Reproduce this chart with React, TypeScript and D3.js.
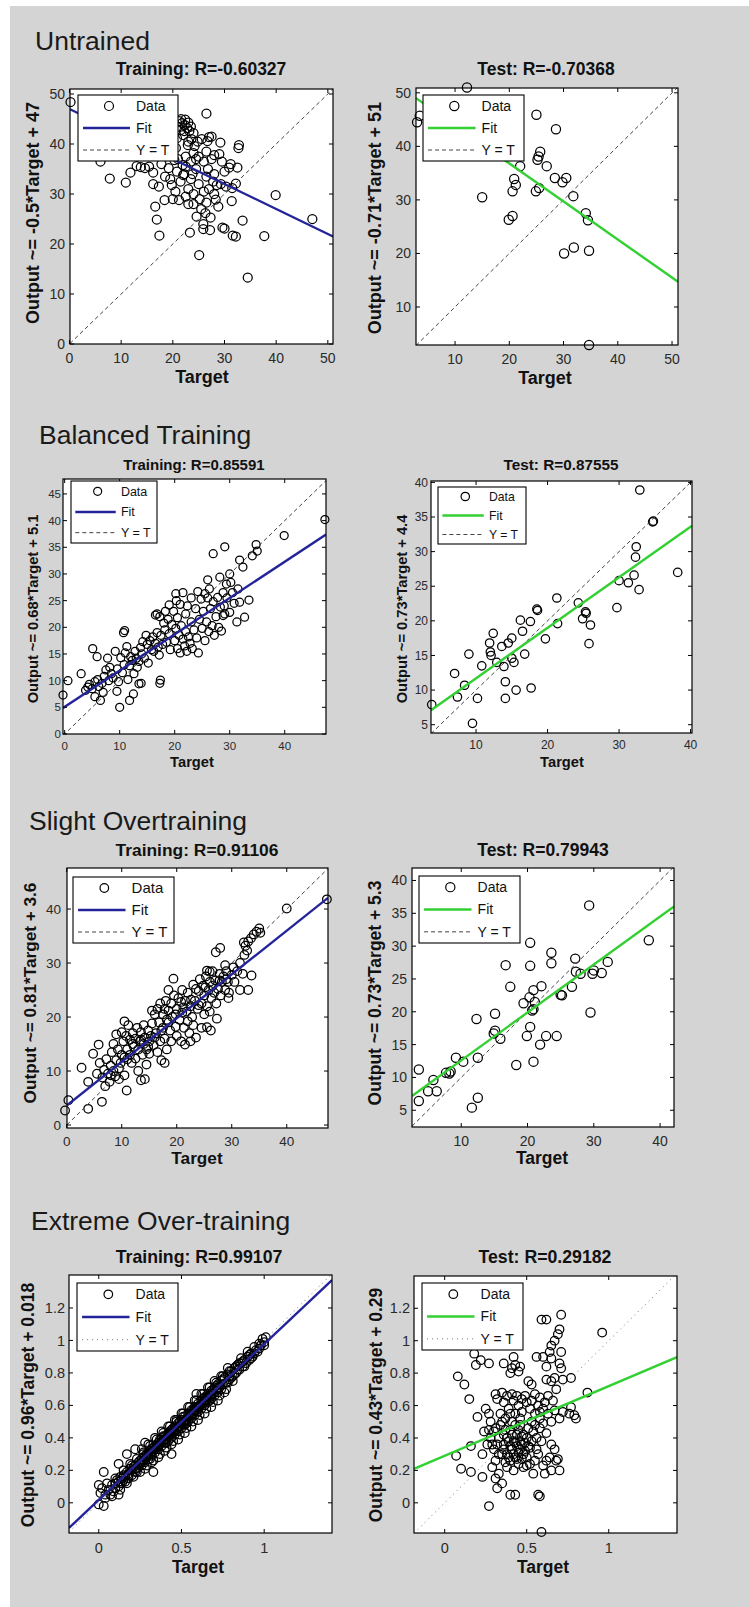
import React from 'react';
import * as d3 from 'd3';

type Pt = [number, number];

// ---- data (target, output) ----
const untrainedTrain: Pt[] = [
  [0.2,48.4],[6,36.5],[7.8,33.1],[10.9,32.3],[11.8,34.3],[13,35.6],[13.8,35.4],[14.6,35.2],[15.4,35.5],[16.2,34.3],
  [16.2,32],[16.6,27.5],[16.9,24.9],[17.4,21.7],[17.3,31.5],[17.8,36],[18.4,28.8],[18.5,33.5],[18.8,37.6],[19.2,35.2],
  [19.8,31.8],[20,29],[20.3,36.8],[20.5,30.5],[20.6,39.2],[21,37],[21.2,28.8],[21.2,44.6],[21.5,42.8],[21.5,32.5],
  [21.8,44.2],[21.9,35.8],[22,33.8],[22,41.8],[22.2,34],[22.3,43.8],[22.5,29.5],[22.5,37.5],[22.5,35.5],[22.8,43.2],
  [22.9,39.8],[23,31],[23.2,42.6],[23.3,22.3],[23.5,33],[23.5,36.5],[23.6,41],[24,38.2],[24,30],[24,28],
  [24.2,39.6],[24.5,35],[24.8,40.5],[25,32],[25.1,17.8],[25,37.5],[25.5,27],[25.6,41],[25.9,24],[25.9,23],
  [26,36.5],[26,30.5],[26.3,26.2],[26.5,46.1],[26.5,38.5],[26.5,33.5],[26.5,28.3],[26.7,40.6],[27,41.4],[27,31],
  [27.2,22.8],[27.3,25.3],[27.5,41.5],[27.5,37],[28,37.8],[28,34],[28,30],[28.3,28.9],[28.5,31.8],[28.8,27.5],
  [29,38],[29.2,40.3],[29.3,32],[29.6,23.3],[30,23.1],[30,34.5],[30.3,31.5],[30.9,35.3],[31.2,36],[31.4,28.6],
  [31.5,31.2],[31.6,21.7],[32.2,21.5],[32.2,32.1],[32.5,35.3],[32.7,39.2],[32.8,39.8],[33.5,24.7],[34.5,13.3],[37.7,21.6],
  [39.9,29.8],[47,25],
  [21,43.5],[21.6,45],[22.4,44.9],[23,44.3],[23.5,43.5],[22.2,42.6],[20.8,41.2],[24,42.2],[23,40.5],[20,38],
  [24.5,37],[19.5,33],[20.8,34.5],[23.8,34],[26.8,35],[29.5,36.5],[27.8,32.5],[25.2,29],[23,28],[24.6,25.5]
];

const untrainedTest: Pt[] = [
  [3,44.5],[3.5,45.7],[12.2,51],[15,30.5],[19.9,26.3],[20.6,27],[20.6,31.6],[20.9,33.9],[21.2,32.8],[22,36.3],
  [24.9,31.6],[25,45.9],[25.2,37.5],[25.4,38.1],[25.5,32.2],[25.7,39],[26.9,36.3],[28.4,34.1],[28.6,43.2],[29.8,33.3],
  [30.1,20],[30.5,34.1],[31.8,30.7],[31.9,21.1],[34.1,27.5],[34.5,26.2],[34.7,20.5],[34.7,2.9]
];

const balancedTrain: Pt[] = [
  [47.3,40.2],[39.9,37.2],[34.8,35.5],[35,34.3],[34.1,33.4],[29.1,35.1],[27,33.8],[31.8,32.6],[32.4,31.3],[26,28.9],
  [28.2,29.4],[30,30],[30.2,28.4],[29.4,28.1],[31.5,27.2],[33.5,25.1],[32.7,21.9],[31.3,21],[31.8,24.7],[20.2,26.3],
  [29.1,22.5],[28.8,22.2],[16.5,22.3],[17.3,22],[10.9,19.4],[10.7,19],[5.1,16],[5.9,14.5],[0.6,10],[-0.3,7.3],
  [3,11.3],[10,5],[11.8,6.3],[6.5,6.3],[13.9,9.5],[17.3,9.5],[17.4,10.1],
  [3.8,8.2],[4.2,8.8],[4.5,9.3],[5,8.5],[5.5,9.8],[6,10.2],[6.2,8.9],[6.8,9.5],[7.2,10.8],[7.5,12],[5.5,7],[7,7.8],
  [8,10],[8.2,12.5],[8.5,11.3],[8.8,10.5],[7.8,14.2],[9.2,15.5],[9.6,12.2],[9.8,9.8],[9.5,8],
  [10.2,14.3],[10.5,11.5],[10.8,13],[11,15.2],[11.3,16.4],[11.5,10.2],[11.8,12.8],[12,14.5],[12.3,13.8],[12.6,11.3],
  [12.8,15.5],[13,14.2],[13.2,12.5],[13.5,13.6],[13.8,16.2],[14,15],[14.2,17.3],[14.5,14.2],[14.8,18.5],[15,16.8],
  [15.2,13.3],[15.5,17.5],[15.8,15.8],[13.5,9.4],[12.5,7.5],
  [16,18.2],[16.2,15.5],[16.5,17],[16.8,19],[17,16.3],[17.2,14.8],[17.5,18.5],[17.8,16.8],[18,20.8],[18.2,19.5],
  [18.5,17.2],[18.8,21.5],[19,18.8],[19.2,15.8],[19.5,20.5],[19.8,23],[20,17.5],[20.2,19.8],[20.5,16],[20.5,21.8],
  [20.8,18.5],[21,24.3],[21,15.2],[21.2,20.3],[21.5,17.8],[21.8,16.5],[22,19.2],[22,22.5],[22.2,15.5],[22.5,18.2],
  [22.8,17],[23,21],[23.2,16],[23.5,19.5],[23.8,23.5],[24,18],[24.3,15.2],[24.5,21.5],[24.8,25.3],[25,19.8],
  [25.2,23],[25.5,17.5],[25.8,21],[26,25.5],[26.2,19.2],[26.5,23.5],[26.8,20.3],[27,24.8],[27.2,18.5],[27.5,22],
  [27.8,25.6],[28,20],[28.3,23.8],[28.5,19.3],[28.8,26.5],[29,24],[29.5,25.5],[30,22.8],[30.5,26.5],[30.8,24.5],
  [23,25.5],[22.3,24],[20.3,25],[19,24.2],[18.3,23],[16.8,22.5],[21.5,26.5],[25.5,26.3],[26.3,27.2],[24.2,26.7]
];

const balancedTest: Pt[] = [
  [3.8,7.9],[7,12.4],[7.4,9],[8.4,10.7],[9.5,5.2],[9,15.2],[10.2,8.8],[10.8,13.5],[12.4,18.2],[11.9,16.8],
  [12,15.5],[12.1,15],[12.9,14],[13.6,16.3],[13.9,13.4],[14.1,11.2],[14.1,8.8],[14.5,16.8],[15,17.5],[15,14.6],
  [15.3,14],[15.6,10],[16.2,20.1],[16.5,18.5],[16.8,15.2],[17.6,19.9],[17.7,10.3],[18.5,21.7],[18.6,21.5],[19.7,17.4],
  [21.3,23.3],[21.4,19.6],[24.3,22.6],[24.9,20.3],[25.3,21.3],[25.4,21.1],[26,19.4],[25.8,16.7],[29.7,21.9],[30,25.8],
  [31.3,25.5],[32.1,26.6],[32.3,29.2],[32.4,30.7],[32.8,24.5],[32.9,38.9],[34.7,34.3],[34.8,34.4],[38.2,27]
];

const slightTrain: Pt[] = [
  [47.3,41.8],[40,40.1],[35,36.4],[34.5,35.8],[34,35.3],[33,34],[32.5,33.2],[32.8,32.3],[32.2,33.8],[33.5,34.6],
  [35.2,35.6],[27.9,32.8],[27.1,32],[25.5,28.6],[26,28.4],[28.8,29.6],[33.6,27.7],[33,25],[31.5,25],[19.4,27.1],
  [10.5,19.2],[5.8,14.9],[4.8,13.2],[2.7,10.6],[3.9,8],[0.3,4.6],[-0.3,2.7],[3.9,3],[6.4,4.3],[10.9,6.4],
  [14.2,8.5],[25.5,18.1],[27.3,19.7],[21.5,14.9],[29.4,23.5],
  [5.5,9.5],[6,11.5],[6.5,8.8],[6.8,10.2],[7,7.2],[7.2,12.2],[7.5,9.5],[7.8,8],[8,11],[8.2,13.5],
  [8.5,10],[8.5,15],[8.8,9],[9,12],[9,16.8],[9.3,14],[9.5,8.5],[9.8,11.5],[10,13],[10,17.2],
  [10.3,15.5],[10.5,12.5],[10.5,9.2],[10.8,16.5],[11,14],[11.2,18.5],[11.5,13],[11.5,15.8],[11.8,11.5],[12,17],
  [12.2,14.5],[12.5,12.3],[12.5,16],[12.8,18],[13,14],[13,10],[13.3,15.5],[13.5,8.3],[13.5,17.2],[13.8,13],
  [14,15],[14,18.5],[14.2,16.2],[14.5,14],[14.5,11.2],[14.8,17.5],[15,15.5],[15,13.2],[15.3,16.5],[15.5,18.8],
  [15.8,14.8],[16,20.5],[16.2,17],[16.5,21.5],[16.5,13.5],[16.8,19],[17,15.5],[17,22.5],[17.2,12],[17.5,18],
  [17.5,20.5],[17.8,16],[17.8,11.5],[18,23],[18.2,19.5],[18.2,14],[18.5,21.2],[18.5,25],[18.8,17.5],[19,22.5],
  [19,15.5],[19.2,20],[19.5,24],[19.8,18.2],[20,21.5],[20,16.5],[20.3,23.5],[20.5,19.5],[20.8,22.8],[20.8,15.5],
  [21,20.8],[21,25],[21.3,18],[21.5,23],[21.8,21],[22,19.2],[22,24.5],[22.3,17],[22.5,22],[22.8,20],
  [23,26],[23,18.5],[23.3,23],[23.5,16.2],[23.8,21.5],
  [24,24.8],[24.2,27],[24.5,22.5],[24.8,25.8],[25,20.5],[25,24],[25.3,27.5],[25.5,22],[25.8,25],[26,26.5],
  [26,21],[26.3,23.5],[26.5,28.5],[26.8,24.5],[27,26.8],[27.2,22.5],[27.5,25.2],[27.8,28],[28,24],[28.2,26.5],
  [28.5,27.5],[28.8,25],[29,28.5],[29.3,26.5],[29.5,24.5],[30,27.8],[30.3,29.2],[30.5,26.5],[31,28.5],[31.5,30],
  [32,28],[32.3,31.5],[26.2,17.5],[24.5,18],[22.5,15.5],
  [12,15],[13.5,15.8],[14.8,14.5],[16,16.2],[17.2,17.5],[18.5,19],[19.8,20.5],[21.2,21.8],[22.6,23.2],[24,22.2],
  [25.2,25.5],[26.5,25.8],[27.8,26.8],[29,27],[11,12.2],[9.5,10.5],[8,9.2],[15.5,21.2],[17.8,21.5],[23.5,25.2]
];

const slightTest: Pt[] = [
  [3.6,11.2],[3.6,6.4],[5,7.9],[5.8,9.6],[6.3,7.9],[7.7,10.7],[8.2,10.6],[8.4,10.9],[9.2,13],[10.3,12.4],
  [12.3,18.9],[12.5,13],[12.5,6.9],[11.6,5.4],[15.1,19.7],[14.9,16.7],[15.1,17.1],[15.9,15.9],[16.7,27.1],[17.4,23.8],
  [18.3,11.9],[19.4,21.3],[19.9,16.3],[20.4,30.5],[20.4,27],[20.4,17.7],[20.3,22.2],[20.9,23.3],[20.9,20.4],[20.7,20.2],
  [20.9,12.4],[21.1,21.5],[21.9,15],[22.1,23.9],[22.8,16.3],[23.6,29],[23.6,27.4],[24.4,16.3],[25,22.6],[25.2,22.5],
  [26.7,23.8],[27.2,28.1],[27.3,26.1],[28,25.8],[29.3,36.2],[29.5,19.9],[29.8,25.8],[30,26.3],[31.2,25.9],[32.1,27.6],
  [38.3,30.9]
];

const extremeTrain: Pt[] = [
  [0.03,0.19],[0.0,0.11],[0.01,0.06],[0.04,0.03],[0.03,-0.02],[0.12,0.05],[0.12,0.24],[0.17,0.30],[0.22,0.33],[0.28,0.37],
  [0.33,0.19],[0.44,0.30],[0.59,0.67],[0.78,0.83],[1.01,1.02],[1.0,0.97],[0.0,-0.01],[0.04,0.05],[0.02,0.09],[0.05,0.12],
  [0.06,0.08],[0.07,0.05],[0.08,0.11],[0.09,0.07],[0.10,0.12],[0.10,0.09],[0.11,0.14],[0.12,0.10],[0.12,0.13],[0.13,0.16],
  [0.14,0.12],[0.14,0.15],[0.15,0.17],[0.16,0.13],[0.16,0.16],[0.17,0.19],[0.18,0.15],[0.18,0.18],[0.19,0.21],[0.20,0.17],
  [0.20,0.20],[0.21,0.22],[0.22,0.19],[0.22,0.23],[0.23,0.21],[0.24,0.25],[0.24,0.22],[0.25,0.24],[0.26,0.27],[0.26,0.23],
  [0.27,0.26],[0.28,0.29],[0.28,0.25],[0.29,0.28],[0.30,0.31],[0.30,0.27],[0.31,0.30],[0.32,0.33],[0.32,0.29],[0.33,0.32],
  [0.34,0.35],[0.34,0.31],[0.35,0.34],[0.36,0.37],[0.36,0.33],[0.37,0.36],[0.38,0.40],[0.38,0.35],[0.39,0.38],[0.40,0.41],
  [0.40,0.37],[0.41,0.40],[0.42,0.43],[0.42,0.38],[0.43,0.42],[0.44,0.45],[0.44,0.40],[0.45,0.44],[0.46,0.47],[0.46,0.42],
  [0.47,0.45],[0.48,0.49],[0.48,0.44],[0.49,0.47],[0.50,0.51],[0.50,0.46],[0.51,0.49],[0.52,0.53],[0.52,0.48],[0.53,0.51],
  [0.54,0.55],[0.54,0.50],[0.55,0.53],[0.56,0.57],[0.56,0.52],[0.57,0.55],[0.58,0.59],[0.58,0.54],[0.59,0.57],[0.60,0.61],
  [0.60,0.56],[0.61,0.59],[0.62,0.63],[0.62,0.58],[0.63,0.61],[0.64,0.65],[0.64,0.60],[0.65,0.63],[0.66,0.67],[0.66,0.62],
  [0.67,0.65],[0.68,0.69],[0.68,0.64],[0.69,0.67],[0.70,0.71],[0.70,0.66],[0.71,0.69],[0.72,0.73],[0.72,0.68],[0.73,0.71],
  [0.74,0.75],[0.74,0.70],[0.75,0.73],[0.76,0.77],[0.77,0.74],[0.78,0.79],[0.79,0.76],[0.80,0.81],[0.81,0.78],[0.82,0.83],
  [0.83,0.80],[0.84,0.85],[0.85,0.82],[0.86,0.86],[0.87,0.84],[0.88,0.88],[0.89,0.86],[0.90,0.90],[0.91,0.88],[0.92,0.92],
  [0.93,0.90],[0.95,0.94],[0.96,0.93],[0.98,0.97],[1.0,0.99],
  [0.35,0.36],[0.40,0.39],[0.45,0.46],[0.50,0.49],[0.55,0.55],[0.60,0.59],[0.65,0.65],[0.30,0.29],[0.25,0.26],[0.48,0.47],
  [0.52,0.51],[0.58,0.57],[0.62,0.61],[0.43,0.44],[0.38,0.37],[0.33,0.34],[0.68,0.67],[0.72,0.71],[0.47,0.50],[0.53,0.49],
  [0.20,0.23],[0.23,0.19],[0.27,0.30],[0.31,0.27],[0.37,0.39],[0.41,0.37],[0.46,0.44],[0.51,0.53],[0.56,0.54],[0.63,0.64],
  [0.67,0.63],[0.71,0.72],[0.75,0.76],[0.79,0.78],[0.83,0.84],
  [0.08,0.04],[0.10,0.15],[0.13,0.08],[0.15,0.20],[0.17,0.12],[0.19,0.24],[0.21,0.16],[0.23,0.27],[0.25,0.19],[0.27,0.31],
  [0.29,0.23],[0.31,0.35],[0.33,0.26],[0.35,0.39],[0.37,0.30],[0.39,0.43],[0.41,0.34],[0.43,0.47],[0.45,0.38],[0.47,0.51],
  [0.49,0.42],[0.51,0.55],[0.53,0.46],[0.55,0.59],[0.57,0.50],[0.59,0.63],[0.61,0.54],[0.63,0.67],[0.65,0.58],[0.67,0.71],
  [0.69,0.62],[0.71,0.74],[0.73,0.66],[0.75,0.78],[0.77,0.70],[0.79,0.81],[0.81,0.75],[0.84,0.82],[0.86,0.89],[0.88,0.84],
  [0.90,0.93],[0.92,0.89],[0.94,0.96],[0.97,0.95],[0.99,1.01],[0.36,0.35],[0.39,0.41],[0.42,0.41],[0.44,0.43],[0.46,0.45],
  [0.49,0.50],[0.51,0.50],[0.54,0.53],[0.57,0.57],[0.59,0.59],[0.61,0.60],[0.64,0.63],[0.66,0.65],[0.69,0.69],[0.71,0.70],
  [0.26,0.25],[0.29,0.30],[0.31,0.32],[0.34,0.33],[0.22,0.21],[0.18,0.17],[0.15,0.14],[0.13,0.12],
  [0.26,0.33],[0.28,0.21],[0.30,0.36],[0.32,0.25],[0.34,0.40],[0.36,0.28],[0.38,0.44],[0.40,0.32],[0.42,0.47],[0.44,0.36],
  [0.46,0.51],[0.48,0.39],[0.50,0.55],[0.52,0.43],[0.54,0.59],[0.56,0.47],[0.58,0.63],[0.60,0.51],[0.62,0.67],[0.64,0.55],
  [0.66,0.71],[0.68,0.59],[0.70,0.75],[0.72,0.63],[0.74,0.78],[0.76,0.68],[0.78,0.74],[0.80,0.77],[0.82,0.79],[0.85,0.86],
  [0.87,0.87],[0.91,0.91],[0.94,0.92],[0.97,0.98]
];

const extremeTest: Pt[] = [
  [0.71,1.16],[0.59,1.13],[0.62,1.13],[0.96,1.05],[0.70,1.07],[0.69,1.04],[0.67,1.0],[0.65,0.97],[0.18,0.92],[0.08,0.78],
  [0.12,0.73],[0.15,0.64],[0.19,0.85],[0.22,0.88],[0.27,0.86],[0.36,0.86],[0.42,0.9],[0.43,0.85],[0.41,0.83],[0.46,0.84],
  [0.4,0.8],[0.45,0.81],[0.51,0.75],[0.56,0.9],[0.6,0.9],[0.64,0.93],[0.65,0.89],[0.62,0.84],[0.71,0.93],[0.7,0.86],
  [0.71,0.83],[0.62,0.76],[0.65,0.75],[0.67,0.77],[0.68,0.7],[0.72,0.76],[0.77,0.77],[0.87,0.68],[0.77,0.59],[0.8,0.52],
  [0.79,0.54],[0.76,0.55],[0.67,0.57],[0.7,0.52],[0.72,0.56],[0.65,0.5],[0.53,0.73],[0.55,0.67],[0.58,0.65],[0.61,0.62],
  [0.57,0.6],[0.6,0.58],[0.63,0.55],[0.58,0.52],[0.55,0.55],[0.52,0.58],[0.5,0.62],[0.07,0.29],[0.1,0.21],[0.16,0.19],
  [0.23,0.16],[0.27,-0.02],[0.31,0.15],[0.32,0.09],[0.4,0.05],[0.43,0.05],[0.57,0.05],[0.58,0.04],[0.59,-0.18],[0.16,0.35],
  [0.2,0.53],[0.27,0.55],[0.31,0.67],[0.32,0.64],[0.49,0.66],[0.65,0.36],[0.67,0.33],[0.64,0.28],[0.69,0.27],[0.7,0.2],
  [0.68,0.26],[0.62,0.26],[0.6,0.23],[0.65,0.2],[0.54,0.18],[0.61,0.18],[0.57,0.3],[0.55,0.26],[0.52,0.34],[0.24,0.44],
  [0.26,0.36],[0.23,0.3],[0.28,0.4],[0.29,0.22],[0.31,0.26],[0.3,0.33],[0.33,0.18],[0.35,0.12],[0.34,0.48],[0.36,0.42],
  [0.37,0.52],[0.38,0.3],[0.38,0.22],[0.39,0.38],[0.39,0.58],[0.4,0.26],[0.4,0.45],[0.41,0.33],[0.41,0.5],[0.42,0.2],
  [0.42,0.38],[0.43,0.28],[0.43,0.55],[0.44,0.35],[0.44,0.42],[0.45,0.24],[0.45,0.31],[0.46,0.38],[0.46,0.48],[0.47,0.27],
  [0.47,0.36],[0.48,0.42],[0.48,0.22],[0.49,0.32],[0.5,0.4],[0.5,0.28],[0.51,0.46],[0.52,0.24],[0.53,0.38],[0.53,0.5],
  [0.54,0.44],[0.56,0.4],[0.58,0.46],[0.6,0.49],[0.62,0.43],[0.35,0.3],[0.36,0.36],[0.37,0.25],[0.33,0.4],[0.34,0.55],
  [0.36,0.62],[0.38,0.66],[0.42,0.63],[0.45,0.6],[0.47,0.56],[0.3,0.44],[0.28,0.5],[0.25,0.58],
  [0.36,0.33],[0.37,0.45],[0.38,0.4],[0.39,0.28],[0.4,0.35],[0.41,0.42],[0.42,0.3],[0.43,0.37],[0.44,0.27],[0.45,0.45],
  [0.46,0.33],[0.47,0.41],[0.48,0.3],[0.49,0.37],[0.5,0.23],[0.51,0.35],[0.4,0.55],[0.43,0.48],[0.46,0.52],[0.35,0.5],
  [0.33,0.3],[0.32,0.36],[0.31,0.46],[0.29,0.36],[0.27,0.45],[0.56,0.33],[0.59,0.38],[0.55,0.48],[0.58,0.56],[0.63,0.66],
  [0.66,0.63],[0.53,0.63],[0.44,0.66],[0.35,0.68],[0.41,0.67],[0.47,0.64]
];

// tick values
const ticks0to50 = [0, 10, 20, 30, 40, 50];
const ticks10to50 = [10, 20, 30, 40, 50];
const ticks0to45by5 = [0, 5, 10, 15, 20, 25, 30, 35, 40, 45];
const ticks0to40 = [0, 10, 20, 30, 40];
const ticks10to40 = [10, 20, 30, 40];
const ticks5to40by5 = [5, 10, 15, 20, 25, 30, 35, 40];
const ticksUnitX = [0, 0.5, 1];
const ticksUnitY = [0, 0.2, 0.4, 0.6, 0.8, 1, 1.2];

const sectionTitles = ['Untrained', 'Balanced Training', 'Slight Overtraining', 'Extreme Over-training'];
const legendLabels = ['Data', 'Fit', 'Y = T'];

const BLUE = '#24249a';
const GREEN = '#33d033';
const BG = '#d4d4d4';
const FONT = '"Liberation Sans", Arial, Helvetica, sans-serif';

// layout of each section title (x, baseline)
const sectionPos = [[35, 50], [39, 444], [29, 830], [31, 1230]];

const panels = [
  { title: 'Training: R=-0.60327', ylabel: 'Output ~= -0.5*Target + 47', data: untrainedTrain, slope: -0.5, intercept: 47,
    color: BLUE, dotted: false, domX: [0.1, 51], domY: [0, 51], box: [70, 89, 333, 344], xt: ticks0to50, yt: ticks0to50,
    titlePos: [201, 69], ylabelPos: [33, 213], xlabelPos: [202, 377], legend: [78, 95, 178, 161],
    fTick: 14, fTitle: 17.5, fLabel: 18, fLegend: 14, r: 4.5, gap: 5 },
  { title: 'Test: R=-0.70368', ylabel: 'Output ~= -0.71*Target + 51', data: untrainedTest, slope: -0.71, intercept: 51,
    color: GREEN, dotted: false, domX: [2.8, 51.1], domY: [2.9, 50.9], box: [416, 88, 678, 345], xt: ticks10to50, yt: ticks10to50,
    titlePos: [546, 69], ylabelPos: [375, 218], xlabelPos: [545, 378], legend: [423, 95, 524, 161],
    fTick: 14, fTitle: 17.5, fLabel: 18, fLegend: 14, r: 4.6, gap: 5 },
  { title: 'Training: R=0.85591', ylabel: 'Output ~= 0.68*Target + 5.1', data: balancedTrain, slope: 0.68, intercept: 5.1,
    color: BLUE, dotted: false, domX: [-0.3, 47.5], domY: [0, 47.8], box: [63, 479, 326, 734], xt: ticks0to40, yt: ticks0to45by5,
    titlePos: [194, 465], ylabelPos: [33, 609], xlabelPos: [192, 762], legend: [71, 481, 157, 543],
    fTick: 11.5, fTitle: 15, fLabel: 14.7, fLegend: 12.5, r: 4, gap: 2 },
  { title: 'Test: R=0.87555', ylabel: 'Output ~= 0.73*Target + 4.4', data: balancedTest, slope: 0.73, intercept: 4.4,
    color: GREEN, dotted: false, domX: [3.7, 40.2], domY: [3.8, 40.2], box: [431, 481, 692, 733], xt: ticks10to40, yt: ticks5to40by5,
    titlePos: [561, 465], ylabelPos: [402, 609], xlabelPos: [562, 762], legend: [438, 487, 526, 544],
    fTick: 12, fTitle: 15.3, fLabel: 14.7, fLegend: 12.2, r: 4.2, gap: 3 },
  { title: 'Training: R=0.91106', ylabel: 'Output ~= 0.81*Target + 3.6', data: slightTrain, slope: 0.81, intercept: 3.6,
    color: BLUE, dotted: false, domX: [0.05, 47.5], domY: [-0.55, 47.6], box: [67, 868, 328, 1128], xt: ticks0to40, yt: ticks0to40,
    titlePos: [197, 850], ylabelPos: [30, 993], xlabelPos: [197, 1158], legend: [73, 877, 174, 943],
    fTick: 13.5, fTitle: 17.4, fLabel: 17.2, fLegend: 15, r: 4.3, gap: 6 },
  { title: 'Test: R=0.79943', ylabel: 'Output ~= 0.73*Target + 5.3', data: slightTest, slope: 0.73, intercept: 5.3,
    color: GREEN, dotted: false, domX: [2.57, 42.1], domY: [2.45, 41.9], box: [412, 868, 674, 1127], xt: ticks10to40, yt: ticks5to40by5,
    titlePos: [543, 850], ylabelPos: [375, 993], xlabelPos: [542, 1158], legend: [419, 876, 520, 943],
    fTick: 14, fTitle: 17.5, fLabel: 17.5, fLegend: 14, r: 4.6, gap: 5 },
  { title: 'Training: R=0.99107', ylabel: 'Output ~= 0.96*Target + 0.018', data: extremeTrain, slope: 0.96, intercept: 0.018,
    color: BLUE, dotted: true, domX: [-0.18, 1.41], domY: [-0.186, 1.403], box: [69, 1275, 332, 1533], xt: ticksUnitX, yt: ticksUnitY,
    titlePos: [199, 1257], ylabelPos: [28, 1405], xlabelPos: [198, 1567], legend: [77, 1283, 178, 1351],
    fTick: 14.5, fTitle: 17.7, fLabel: 17.5, fLegend: 14, r: 4.3, gap: 4 },
  { title: 'Test: R=0.29182', ylabel: 'Output ~= 0.43*Target + 0.29', data: extremeTest, slope: 0.43, intercept: 0.29,
    color: GREEN, dotted: true, domX: [-0.187, 1.416], domY: [-0.186, 1.399], box: [414, 1276, 677, 1533], xt: ticksUnitX, yt: ticksUnitY,
    titlePos: [545, 1257], ylabelPos: [376, 1405], xlabelPos: [543, 1567], legend: [422, 1283, 523, 1350],
    fTick: 14.5, fTitle: 17.7, fLabel: 17.5, fLegend: 14, r: 4.3, gap: 4 },
];

function Panel({ p, idx }: { p: any; idx: number }) {
  const [x0, y0, x1, y1] = p.box;
  const x = d3.scaleLinear().domain(p.domX).range([x0, x1]);
  const y = d3.scaleLinear().domain(p.domY).range([y1, y0]);
  const clipId = 'plotclip' + idx;

  const fitLine = d3.line<number>().x(t => x(t)).y(t => y(p.slope * t + p.intercept));
  const idLine = d3.line<number>().x(t => x(t)).y(t => y(t));
  const refDash = p.dotted ? '1,4' : '4,3';
  const refColor = p.dotted ? '#777' : '#444';
  const tickLen = 4;

  const [lx0, ly0, lx1, ly1] = p.legend;
  const lw = lx1 - lx0, lh = ly1 - ly0;
  const rows = [1, 3, 5].map(k => ly0 + (lh * k) / 6);

  return (
    <g>
      <defs>
        <clipPath id={clipId}>
          <rect x={x0} y={y0} width={x1 - x0} height={y1 - y0} />
        </clipPath>
      </defs>
      <rect x={x0} y={y0} width={x1 - x0} height={y1 - y0} fill="#fff" />

      {/* data */}
      {p.data.map((d: Pt, i: number) => (
        <circle key={i} cx={x(d[0])} cy={y(d[1])} r={p.r} fill="none" stroke="#000" strokeWidth={1.25} />
      ))}

      <g clipPath={`url(#${clipId})`}>
        <path d={idLine(p.domX) || ''} stroke={refColor} strokeWidth={1} strokeDasharray={refDash} fill="none" />
        <path d={fitLine(p.domX) || ''} stroke={p.color} strokeWidth={2.4} fill="none" />
      </g>

      {/* box + ticks */}
      <rect x={x0} y={y0} width={x1 - x0} height={y1 - y0} fill="none" stroke="#000" strokeWidth={1.2} />
      {p.xt.map((v: number) => (
        <g key={'xt' + v}>
          <line x1={x(v)} x2={x(v)} y1={y1} y2={y1 - tickLen} stroke="#000" />
          <line x1={x(v)} x2={x(v)} y1={y0} y2={y0 + tickLen} stroke="#000" />
          <text x={x(v)} y={y1 + p.fTick} dy="0.35em" textAnchor="middle" fontSize={p.fTick} fill="#2a2a2a">{v}</text>
        </g>
      ))}
      {p.yt.map((v: number) => (
        <g key={'yt' + v}>
          <line x1={x0} x2={x0 + tickLen} y1={y(v)} y2={y(v)} stroke="#000" />
          <line x1={x1} x2={x1 - tickLen} y1={y(v)} y2={y(v)} stroke="#000" />
          <text x={x0 - p.gap} y={y(v)} dy="0.35em" textAnchor="end" fontSize={p.fTick} fill="#2a2a2a">{v}</text>
        </g>
      ))}

      {/* texts */}
      <text x={p.titlePos[0]} y={p.titlePos[1]} dy="0.35em" textAnchor="middle" fontSize={p.fTitle} fontWeight="bold" fill="#111">{p.title}</text>
      <text x={p.xlabelPos[0]} y={p.xlabelPos[1]} dy="0.35em" textAnchor="middle" fontSize={p.fLabel} fontWeight="bold" fill="#111">Target</text>
      <text transform={`translate(${p.ylabelPos[0]},${p.ylabelPos[1]}) rotate(-90)`} dy="0.35em" textAnchor="middle"
        fontSize={p.fLabel} fontWeight="bold" fill="#111">{p.ylabel}</text>

      {/* legend */}
      <rect x={lx0} y={ly0} width={lw} height={lh} fill="#fff" stroke="#000" strokeWidth={1.1} />
      <circle cx={lx0 + lw * 0.31} cy={rows[0]} r={p.r} fill="none" stroke="#000" strokeWidth={1.2} />
      <line x1={lx0 + lw * 0.05} x2={lx0 + lw * 0.52} y1={rows[1]} y2={rows[1]} stroke={p.color} strokeWidth={2.4} />
      <line x1={lx0 + lw * 0.05} x2={lx0 + lw * 0.52} y1={rows[2]} y2={rows[2]} stroke={refColor} strokeWidth={1} strokeDasharray={refDash} />
      {legendLabels.map((t, i) => (
        <text key={t} x={lx0 + lw * 0.58} y={rows[i]} dy="0.35em" fontSize={p.fLegend} fill="#111">{t}</text>
      ))}
    </g>
  );
}

export default function App() {
  const W = 749, H = 1607;
  return (
    <div style={{ position: 'absolute', left: 0, top: 0 }}>
      <svg width={W} height={H} fontFamily={FONT} style={{ display: 'block' }}>
        <rect x={0} y={0} width={W} height={H} fill="#fff" />
        <rect x={10} y={6} width={W - 10} height={H - 6} fill={BG} />
        {sectionTitles.map((t, i) => (
          <text key={t} x={sectionPos[i][0]} y={sectionPos[i][1]} fontSize={26.5} fill="#1a1a1a">{t}</text>
        ))}
        {panels.map((p, i) => <Panel key={i} p={p} idx={i} />)}
      </svg>
    </div>
  );
}
